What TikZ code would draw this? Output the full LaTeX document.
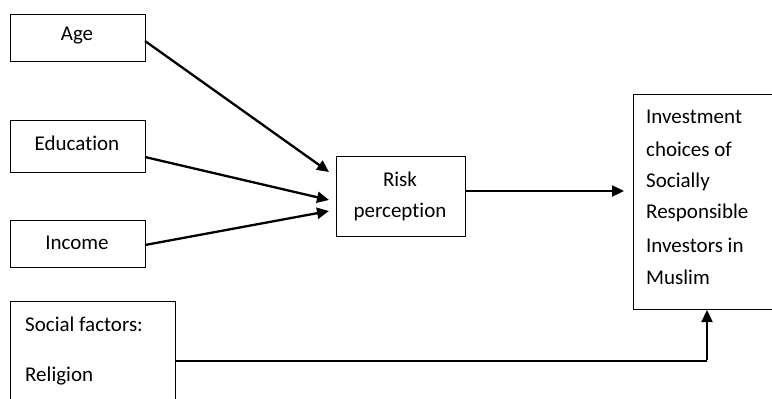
\documentclass[tikz,border=0pt]{standalone}
\usepackage{fontspec}
\setmainfont{Carlito}[Ligatures=NoCommon]
\usetikzlibrary{arrows.meta}
\begin{document}
\begin{tikzpicture}[x=1pt,y=-1pt,
  box/.style={draw,line width=1pt,inner sep=0pt,anchor=north west},
  lbl/.style={font=\fontsize{21}{21}\selectfont,inner sep=0pt},
  arr/.style={line width=2.3pt,-{Triangle[length=12pt,width=11pt]}}]
\useasboundingbox (0,0) rectangle (772,399);
\node[box,minimum width=135pt,minimum height=47pt] (age) at (10,14) {};
\node[lbl] at (77,36) {Age};
\node[box,minimum width=135pt,minimum height=52pt] (edu) at (10,120) {};
\node[lbl] at (77,143) {Education};
\node[box,minimum width=135pt,minimum height=47pt] (inc) at (10,220) {};
\node[lbl] at (77,243) {Income};
\node[box,minimum width=165pt,minimum height=110pt] (soc) at (10,301) {};
\node[lbl,anchor=west] at (25,324) {Social factors:};
\node[lbl,anchor=west] at (25,376) {Religion};
\node[box,minimum width=129pt,minimum height=80pt] (risk) at (336,156) {};
\node[lbl] at (400,179) {Risk};
\node[lbl] at (400,212) {perception};
\node[box,minimum width=150pt,minimum height=215pt] (inv) at (633,94) {};
\node[lbl,anchor=west] at (646,117) {Investment};
\node[lbl,anchor=west] at (646,149) {choices of};
\node[lbl,anchor=west] at (646,182) {Socially};
\node[lbl,anchor=west] at (646,213) {Responsible};
\node[lbl,anchor=west] at (646,245) {Investors in};
\node[lbl,anchor=west] at (646,277) {Muslim};
\coordinate (a1) at (145,41);
\coordinate (a2) at (329,172);
\coordinate (e1) at (145,157);
\coordinate (e2) at (329,200);
\coordinate (i1) at (145,245);
\coordinate (i2) at (329,211);
\coordinate (r1) at (465,191);
\coordinate (r2) at (624,191);
\coordinate (s1) at (175,361);
\coordinate (s2) at (707,361);
\coordinate (s3) at (707,310);
\draw[arr] (a1) -- (a2);
\draw[arr] (e1) -- (e2);
\draw[arr] (i1) -- (i2);
\draw[arr] (r1) -- (r2);
\draw[line width=1.3pt] (s1) -- (s2);
\draw[arr] ([yshift=0.6pt]s2) -- (s3);
\end{tikzpicture}
\end{document}
